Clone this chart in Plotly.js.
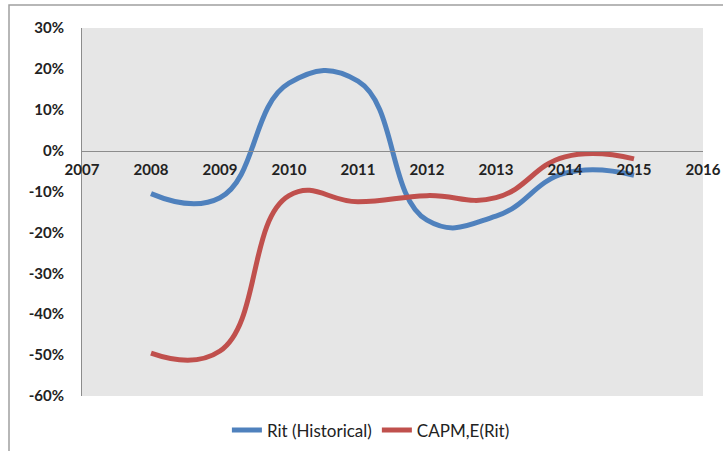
<!DOCTYPE html>
<html>
<head>
<meta charset="utf-8">
<script src="https://cdn.plot.ly/plotly-3.0.1.min.js"></script>
<style>html,body{margin:0;padding:0;background:#fff;}#chart{width:723px;height:451px;}</style>
</head>
<body>
<div id="chart"></div>
<script>
const years = [2008, 2009, 2010, 2011, 2012, 2013, 2014, 2015];
const ritHistorical = [-0.105, -0.115, 0.165, 0.17, -0.17, -0.16, -0.055, -0.06];
const capmERit = [-0.495, -0.49, -0.11, -0.125, -0.11, -0.115, -0.015, -0.02];
const seriesNames = ['Rit (Historical)', 'CAPM,E(Rit)'];
const xTickVals = [2007, 2008, 2009, 2010, 2011, 2012, 2013, 2014, 2015, 2016];
const yTickVals = [0.3, 0.2, 0.1, 0, -0.1, -0.2, -0.3, -0.4, -0.5, -0.6];
const yTickText = ['30%', '20%', '10%', '0%', '-10%', '-20%', '-30%', '-40%', '-50%', '-60%'];

const tickFont = {family: 'Lato, "Liberation Sans", sans-serif', size: 15, color: '#222', weight: 'bold'};

const traces = [
  {x: years, y: ritHistorical, name: seriesNames[0], mode: 'lines',
   line: {color: '#4F81BD', width: 5, shape: 'spline', smoothing: 1.3}},
  {x: years, y: capmERit, name: seriesNames[1], mode: 'lines',
   line: {color: '#C0504D', width: 5, shape: 'spline', smoothing: 1.3}}
];

const layout = {
  width: 723, height: 451,
  margin: {l: 82, r: 20, t: 28, b: 55, autoexpand: false},
  paper_bgcolor: '#ffffff',
  plot_bgcolor: '#e6e6e6',
  showlegend: true,
  legend: {orientation: 'h', xref: 'container', x: 0.513, xanchor: 'center', y: -0.045, yanchor: 'top',
           font: {family: 'Lato, "Liberation Sans", sans-serif', size: 17, color: '#222'},
           bgcolor: 'rgba(0,0,0,0)'},
  xaxis: {range: [2007, 2016], tickvals: xTickVals, ticktext: xTickVals.map(String),
          anchor: 'free', position: 2/3, showline: true, linecolor: '#8c8c8c', linewidth: 1,
          showgrid: false, zeroline: false, ticks: '', ticklabelstandoff: 5, tickfont: tickFont, fixedrange: true},
  yaxis: {range: [-0.6, 0.3], tickvals: yTickVals, ticktext: yTickText,
          showline: true, linecolor: '#8c8c8c', linewidth: 1, showgrid: false, zeroline: false,
          ticks: '', ticklabelstandoff: 14, tickfont: tickFont, fixedrange: true},
  shapes: [
    {type: 'rect', xref: 'paper', yref: 'paper', x0: -73/621, x1: 1.2, y0: -0.3, y1: 1 + 23/368,
     line: {color: '#a0a0a0', width: 1.5}, fillcolor: 'rgba(0,0,0,0)', layer: 'below'}
  ]
};

Plotly.newPlot('chart', traces, layout, {staticPlot: true, displayModeBar: false});
</script>
</body>
</html>
